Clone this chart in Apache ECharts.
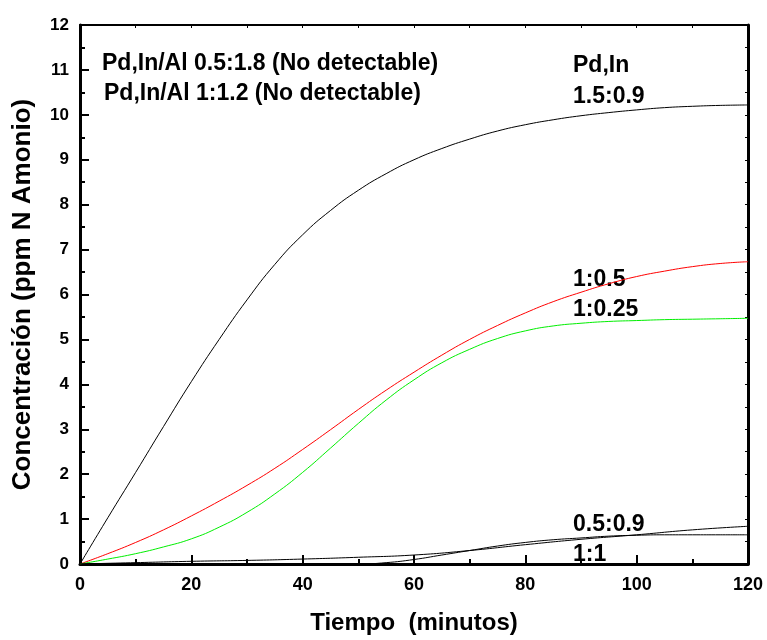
<!DOCTYPE html>
<html>
<head>
<meta charset="utf-8">
<script src="https://cdn.jsdelivr.net/npm/echarts@6/dist/echarts.min.js"></script>
<style>
html,body{margin:0;padding:0;background:#fff;}
#chart{width:767px;height:640px;}
</style>
</head>
<body>
<div id="chart"></div>
<script>
// Data
var time5 = [0, 5, 10, 15, 20, 25, 30, 35, 40, 45, 50, 55, 60, 65, 70, 75, 80, 85, 90, 95, 100, 105, 110, 115, 120];
var time10 = [0, 10, 20, 30, 40, 50, 60, 70, 80, 90, 100, 110, 120];
var time11 = [0, 50, 55, 60, 65, 70, 75, 80, 85, 90, 95, 100, 105, 110, 115, 120];
var s15_09 = [0, 1.03, 2.04, 3.06, 4.06, 5.00, 5.88, 6.67, 7.33, 7.87, 8.32, 8.69, 9.00, 9.25, 9.46, 9.64, 9.78, 9.89, 9.98, 10.05, 10.11, 10.16, 10.19, 10.21, 10.22];
var s1_05 = [0, 0.23, 0.48, 0.76, 1.07, 1.40, 1.75, 2.13, 2.55, 2.99, 3.44, 3.87, 4.27, 4.65, 5.00, 5.31, 5.59, 5.84, 6.05, 6.24, 6.40, 6.52, 6.62, 6.69, 6.73];
var s1_025 = [0, 0.11, 0.23, 0.38, 0.56, 0.82, 1.15, 1.56, 2.04, 2.58, 3.13, 3.65, 4.10, 4.48, 4.78, 5.02, 5.19, 5.30, 5.36, 5.40, 5.42, 5.44, 5.45, 5.46, 5.47];
var s05_09 = [0, 0.03, 0.06, 0.08, 0.11, 0.15, 0.20, 0.30, 0.43, 0.55, 0.65, 0.76, 0.84];
var s1_1 = [0, 0, 0.03, 0.10, 0.20, 0.30, 0.40, 0.48, 0.54, 0.58, 0.62, 0.64, 0.65, 0.65, 0.65, 0.65];
var xTicks = [0, 20, 40, 60, 80, 100, 120];
var yTicks = [0, 1, 2, 3, 4, 5, 6, 7, 8, 9, 10, 11, 12];

function pairs(xs, ys) { return xs.map(function (x, i) { return [x, ys[i]]; }); }

var FONT = 'Liberation Sans, Arial, sans-serif';
var chart = echarts.init(document.getElementById('chart'), null, { renderer: 'canvas' });

function lineSeries(name, xs, ys, color) {
  return {
    name: name, type: 'line', data: pairs(xs, ys), xAxisIndex: 0, yAxisIndex: 0,
    smooth: true, showSymbol: false, symbol: 'none',
    lineStyle: { color: color, width: 1 }, z: 3, animation: false
  };
}

function txt(text, x, yc) {
  return { type: 'text', x: x, y: yc, style: { text: text, font: 'bold 23px ' + FONT, fill: '#000', verticalAlign: 'middle', align: 'left' } };
}

chart.setOption({
  animation: false,
  backgroundColor: '#fff',
  grid: { left: 80, right: 19, top: 25, bottom: 75 },
  xAxis: [{
    type: 'value', min: 0, max: 120, interval: 20, position: 'bottom',
    name: 'Tiempo  (minutos)', nameLocation: 'middle', nameGap: 47,
    nameTextStyle: { fontFamily: FONT, fontWeight: 'bold', fontSize: 24, color: '#000' },
    axisLine: { show: true, onZero: false, lineStyle: { color: '#000', width: 3 } },
    axisTick: { show: true, inside: true, length: 9, lineStyle: { color: '#000', width: 2 } },
    minorTick: { show: true, splitNumber: 2, length: 5, lineStyle: { color: '#000', width: 2 } },
    axisLabel: { margin: 12, fontFamily: FONT, fontWeight: 'bold', fontSize: 18, color: '#000' },
    splitLine: { show: false }
  }, {
    type: 'value', min: 0, max: 120, interval: 10, position: 'top',
    axisLine: { show: true, onZero: false, lineStyle: { color: '#000', width: 2 } },
    axisTick: { show: true, inside: true, length: 3, lineStyle: { color: '#000', width: 1 } },
    axisLabel: { show: false }, splitLine: { show: false }
  }],
  yAxis: [{
    type: 'value', min: 0, max: 12, interval: 1, position: 'left',
    name: 'Concentración (ppm N Amonio)', nameLocation: 'middle', nameGap: 44,
    nameTextStyle: { fontFamily: FONT, fontWeight: 'bold', fontSize: 26, color: '#000' },
    axisLine: { show: true, onZero: false, lineStyle: { color: '#000', width: 3 } },
    axisTick: { show: true, inside: true, length: 9, lineStyle: { color: '#000', width: 2 } },
    minorTick: { show: true, splitNumber: 2, length: 5, lineStyle: { color: '#000', width: 2 } },
    axisLabel: { margin: 11, fontFamily: FONT, fontWeight: 'bold', fontSize: 17, color: '#000' },
    splitLine: { show: false }
  }, {
    type: 'value', min: 0, max: 12, interval: 0.5, position: 'right',
    axisLine: { show: true, onZero: false, lineStyle: { color: '#000', width: 3 } },
    axisTick: { show: true, inside: true, length: 3, lineStyle: { color: '#000', width: 1 } },
    axisLabel: { show: false }, splitLine: { show: false }
  }],
  series: [
    lineSeries('1.5:0.9', time5, s15_09, '#000000'),
    lineSeries('1:0.5', time5, s1_05, '#ff0000'),
    lineSeries('1:0.25', time5, s1_025, '#00ee00'),
    lineSeries('0.5:0.9', time10, s05_09, '#000000'),
    lineSeries('1:1', time11, s1_1, '#000000')
  ],
  graphic: [
    txt('Pd,In/Al 0.5:1.8 (No detectable)', 102, 64),
    txt('Pd,In/Al 1:1.2 (No detectable)', 104, 94),
    txt('Pd,In', 573, 66),
    txt('1.5:0.9', 573, 97),
    txt('1:0.5', 573, 280),
    txt('1:0.25', 573, 310),
    txt('0.5:0.9', 573, 525),
    txt('1:1', 573, 555)
  ]
});
</script>
</body>
</html>
